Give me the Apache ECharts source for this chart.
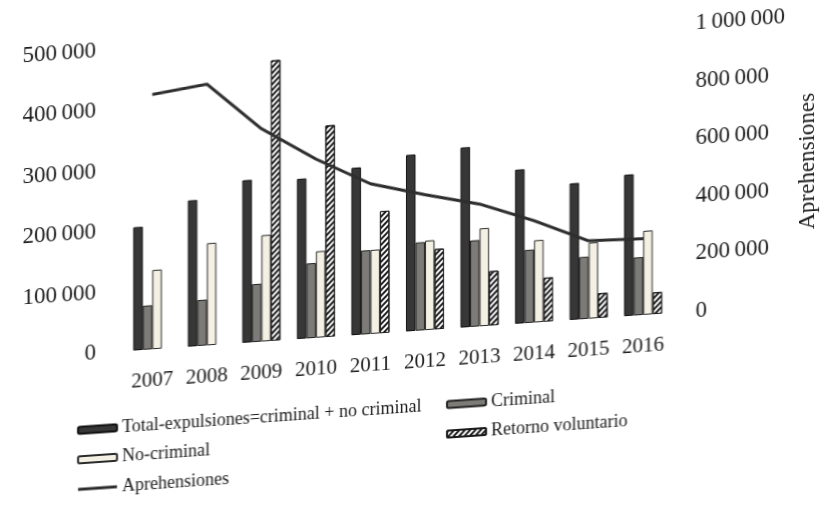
<!DOCTYPE html>
<html><head><meta charset="utf-8">
<script src="https://cdn.jsdelivr.net/npm/echarts@6/dist/echarts.min.js"></script>
<style>
html,body{margin:0;padding:0;background:#fff;overflow:hidden}
#chart{width:827px;height:505px;transform:skewY(-4deg);transform-origin:413.5px 252.5px}
</style>
</head><body><div id="chart"></div>
<script>
const years = ['2007','2008','2009','2010','2011','2012','2013','2014','2015','2016'];
const totalExpulsiones = [204000, 242000, 269000, 265000, 277000, 292000, 298000, 255000, 226000, 234000];
const criminal = [73000, 76000, 96000, 124000, 139000, 146000, 143000, 121000, 103000, 96000];
const noCriminal = [131000, 169000, 176000, 143000, 139000, 148000, 162000, 136000, 126000, 139000];
const retornoVoluntario = [null, null, 464000, 350000, 202000, 133000, 90000, 73000, 41000, 36000];
const aprehensiones = [885000, 908000, 740000, 621000, 522000, 471000, 425000, 354000, 271000, 265000];
const seriesNames = ['Total-expulsiones=criminal + no criminal', 'Criminal', 'No-criminal', 'Retorno voluntario', 'Aprehensiones'];
const rightAxisName = 'Aprehensiones';

const FONT = 'Liberation Serif';
const TXT = '#1c1c1c';
const fmt = v => String(v).replace(/\B(?=(\d{3})+(?!\d))/g, '\u2009');

const chart = echarts.init(document.getElementById('chart'), null, {renderer: 'canvas'});
const barBase = {type: 'bar', barWidth: 9.5, barGap: '0%', yAxisIndex: 0};
const legendBase = {orient: 'vertical', padding: 0, itemWidth: 39, itemHeight: 7, itemGap: 9.5,
  textStyle: {fontFamily: FONT, fontSize: 18, color: TXT, lineHeight: 20}};
const lineIcon = 'path://M0,0L40,0M0,2H40V5H0ZM0,7L40,7';
chart.setOption({
  backgroundColor: '#ffffff',
  animation: false,
  textStyle: {fontFamily: FONT, color: TXT},
  grid: {left: 125, right: 146.5, top: 28.8, bottom: 174},
  legend: [
    Object.assign({}, legendBase, {left: 77, top: 397,
      data: [seriesNames[0], seriesNames[2],
        {name: seriesNames[4], icon: lineIcon, itemStyle: {color: '#2e2e2e', borderWidth: 0}}]}),
    Object.assign({}, legendBase, {left: 446, top: 397,
      data: [seriesNames[1], seriesNames[3]]})
  ],
  xAxis: {
    type: 'category', data: years,
    axisLine: {show: false}, axisTick: {show: false},
    axisLabel: {interval: 0, hideOverlap: false, fontFamily: FONT, fontSize: 21, color: TXT, margin: 21}
  },
  yAxis: [
    {type: 'value', min: 0, max: 500000, interval: 100000,
     axisLine: {show: false}, axisTick: {show: false}, splitLine: {show: false},
     axisLabel: {fontFamily: FONT, fontSize: 23, color: TXT, margin: 29, formatter: fmt}},
    {type: 'value', position: 'right', min: 0, max: 1050000, interval: 200000,
     name: rightAxisName, nameLocation: 'middle', nameRotate: 90, nameGap: 109,
     nameTextStyle: {fontFamily: FONT, fontSize: 23, color: TXT, padding: [0, 18, 0, 0]},
     axisLine: {show: false}, axisTick: {show: false}, splitLine: {show: false},
     axisLabel: {fontFamily: FONT, fontSize: 23, color: TXT, margin: 25, align: 'left', showMaxLabel: false, formatter: fmt}}
  ],
  series: [
    Object.assign({}, barBase, {name: seriesNames[0], data: totalExpulsiones,
      itemStyle: {color: '#373737', borderColor: '#111', borderWidth: 1}}),
    Object.assign({}, barBase, {name: seriesNames[1], data: criminal,
      itemStyle: {color: '#7c7b77', borderColor: '#222', borderWidth: 1}}),
    Object.assign({}, barBase, {name: seriesNames[2], data: noCriminal,
      itemStyle: {color: '#f4f1e4', borderColor: '#2a2a2a', borderWidth: 1}}),
    Object.assign({}, barBase, {name: seriesNames[3], data: retornoVoluntario,
      itemStyle: {color: '#ffffff', borderColor: '#1a1a1a', borderWidth: 1,
        decal: {symbol: 'rect', symbolSize: 1, color: '#1a1a1a', dashArrayX: [1, 0], dashArrayY: [2, 2], rotation: -Math.PI / 4}}}),
    {type: 'line', name: seriesNames[4], data: aprehensiones, yAxisIndex: 1, z: 5,
     symbol: 'none', lineStyle: {color: '#2e2e2e', width: 3}, itemStyle: {color: '#2e2e2e'}}
  ]
});
</script>
</body></html>
